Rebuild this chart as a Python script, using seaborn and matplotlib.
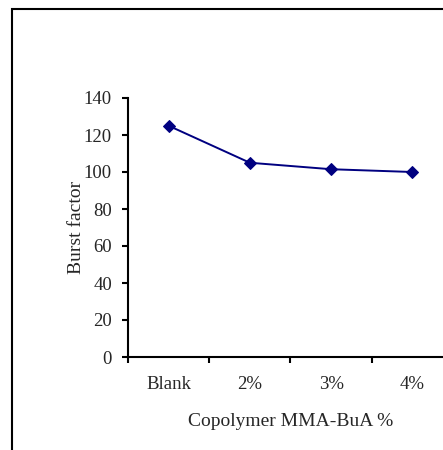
import matplotlib
matplotlib.use("Agg")
import matplotlib.pyplot as plt
import seaborn as sns
import pandas as pd
from matplotlib.patches import Rectangle
from matplotlib.ticker import FixedLocator

# data
categories = ['Blank', '2%', '3%', '4%']
burst_factor = [125, 105, 101.5, 100]

df = pd.DataFrame({'copolymer': categories, 'burst': burst_factor})

sns.set_style('white')
plt.rcParams['font.family'] = ['Liberation Serif', 'DejaVu Serif']

fig = plt.figure(figsize=(4.43, 4.5), dpi=100)
ax = fig.add_axes([128 / 443, 1 - 357 / 450, 325 / 443, 259 / 450])

sns.lineplot(data=df, x='copolymer', y='burst', ax=ax, color='#000080',
             marker='D', markersize=6.5, markeredgecolor='#000080',
             linewidth=1.4, sort=False)

ax.set_xlim(-0.5, 3.5)
ax.set_ylim(0, 140)
ax.set_yticks(range(0, 141, 20))

# category ticks: labels at centres, tick marks at boundaries
ax.set_xticks(range(len(categories)))
ax.set_xticklabels(categories, fontsize=13.5)
ax.xaxis.set_minor_locator(FixedLocator([-0.5, 0.5, 1.5, 2.5, 3.5]))
ax.tick_params(axis='x', which='major', bottom=True, length=0, pad=14)
ax.tick_params(axis='x', which='minor', bottom=True, length=4.5, width=1.5,
               direction='out', color='black')
ax.tick_params(axis='y', left=True, length=4.5, width=1.5, direction='out',
               color='black', labelsize=13.5, pad=7)

ax.set_xlabel('Copolymer MMA-BuA %', fontsize=14, labelpad=14)
ax.set_ylabel('Burst factor', fontsize=14, labelpad=-1)

for side in ['top', 'right']:
    ax.spines[side].set_visible(False)
for side in ['left', 'bottom']:
    ax.spines[side].set_color('black')
    ax.spines[side].set_linewidth(1.5)

# outer frame, partly cut off at right and bottom
fig.patches.append(Rectangle((12 / 443, -0.1), 1.2, 1 - 9 / 450 + 0.1,
                             transform=fig.transFigure, fill=False,
                             edgecolor='black', linewidth=1.5))

fig.savefig('out.png', dpi=100)
